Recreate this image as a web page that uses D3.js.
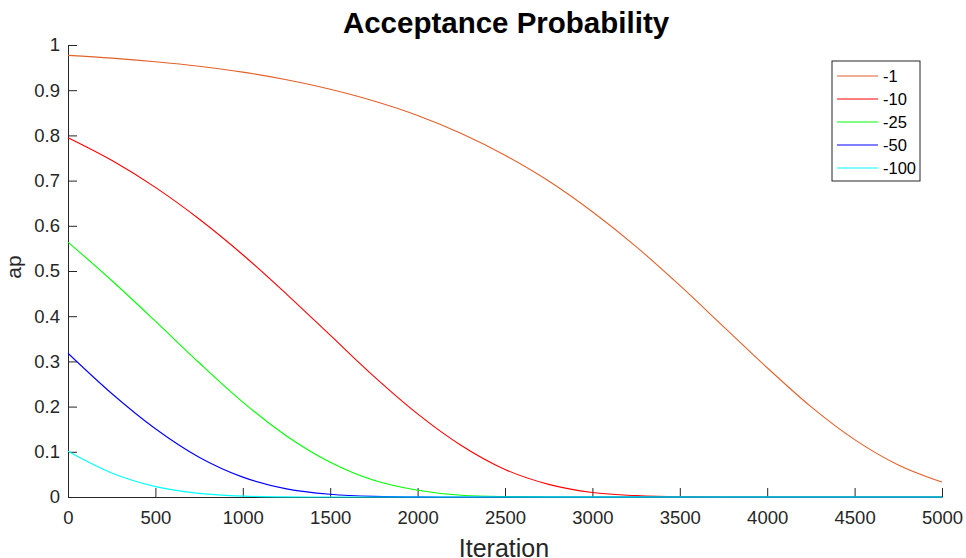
<!DOCTYPE html>
<html>
<head>
<meta charset="utf-8">
<script src="https://cdn.jsdelivr.net/npm/d3@7"></script>
<style>
  body { margin: 0; background: #fff; overflow: hidden; }
  text { font-family: "Liberation Sans", Arial, sans-serif; fill: #262626; }
</style>
</head>
<body>
<script>
// iteration samples (every 250)
var iterations = [0, 250, 500, 750, 1000, 1250, 1500, 1750, 2000, 2250, 2500,
                  2750, 3000, 3250, 3500, 3750, 4000, 4250, 4500, 4750, 5000];

var seriesNames = ["-1", "-10", "-25", "-50", "-100"];
var seriesColors = ["#e2612a", "#ff0000", "#00ff00", "#0000ff", "#00ffff"];

var ap1   = [0.977, 0.971, 0.963, 0.953, 0.940, 0.923, 0.902, 0.876, 0.844, 0.804, 0.756,
             0.699, 0.631, 0.554, 0.468, 0.377, 0.286, 0.200, 0.127, 0.071, 0.033];
var ap10  = [0.795, 0.745, 0.685, 0.615, 0.536, 0.449, 0.358, 0.267, 0.184, 0.114, 0.061,
             0.028, 0.010, 0.003, 0.0005, 0.0001, 0, 0, 0, 0, 0];
var ap25  = [0.564, 0.479, 0.389, 0.297, 0.210, 0.135, 0.077, 0.037, 0.015, 0.004, 0.001,
             0.0001, 0, 0, 0, 0, 0, 0, 0, 0, 0];
var ap50  = [0.318, 0.229, 0.151, 0.088, 0.044, 0.018, 0.006, 0.0014, 0.0002, 0, 0,
             0, 0, 0, 0, 0, 0, 0, 0, 0, 0];
var ap100 = [0.101, 0.053, 0.023, 0.008, 0.002, 0.0003, 0, 0, 0, 0, 0,
             0, 0, 0, 0, 0, 0, 0, 0, 0, 0];

var xTicks = [0, 500, 1000, 1500, 2000, 2500, 3000, 3500, 4000, 4500, 5000];
var yTicks = [0, 0.1, 0.2, 0.3, 0.4, 0.5, 0.6, 0.7, 0.8, 0.9, 1];
var yTickLabels = ["0", "0.1", "0.2", "0.3", "0.4", "0.5", "0.6", "0.7", "0.8", "0.9", "1"];

var allSeries = [ap1, ap10, ap25, ap50, ap100];

var margin = {top: 45, right: 24, bottom: 61, left: 68},
    width = 966 - margin.left - margin.right,
    height = 558 - margin.top - margin.bottom;

var x = d3.scaleLinear().domain([0, 5000]).range([0, width]);
var y = d3.scaleLinear().domain([0, 1]).range([height, 0]);

var svg = d3.select("body").append("svg")
    .attr("width", 966)
    .attr("height", 558);

var g = svg.append("g")
    .attr("transform", "translate(" + margin.left + "," + margin.top + ")");

// axes, ticks pointing inward like matlab
var xAxis = g.append("g")
    .attr("transform", "translate(0," + height + ")")
    .call(d3.axisBottom(x).tickValues(xTicks).tickSizeInner(-9).tickSizeOuter(0).tickPadding(14)
          .tickFormat(d3.format("d")));

var yAxis = g.append("g")
    .call(d3.axisLeft(y).tickValues(yTicks).tickSizeInner(-9).tickSizeOuter(0).tickPadding(8)
          .tickFormat(function(d, i) { return yTickLabels[i]; }));

[xAxis, yAxis].forEach(function(a) {
  a.select(".domain").attr("stroke", "#262626");
  a.selectAll(".tick line").attr("stroke", "#262626");
  a.selectAll("text").style("font-size", "18.5px").attr("fill", "#262626")
    .style("font-family", "'Liberation Sans', Arial, sans-serif");
});

// lines
var line = d3.line()
    .x(function(d, i) { return x(iterations[i]); })
    .y(function(d) { return y(d); })
    .curve(d3.curveMonotoneX);

g.selectAll(".series")
    .data(allSeries)
    .enter().append("path")
    .attr("class", "series")
    .attr("fill", "none")
    .attr("stroke", function(d, i) { return seriesColors[i]; })
    .attr("stroke-width", 1.1)
    .attr("d", line);

// title and labels
svg.append("text")
    .attr("x", 506)
    .attr("y", 33)
    .attr("text-anchor", "middle")
    .style("font-size", "29.5px")
    .style("font-weight", "bold")
    .style("fill", "#000")
    .text("Acceptance Probability");

svg.append("text")
    .attr("x", 504)
    .attr("y", 557)
    .attr("text-anchor", "middle")
    .style("font-size", "25px")
    .text("Iteration");

svg.append("text")
    .attr("transform", "translate(21,267) rotate(-90)")
    .attr("text-anchor", "middle")
    .style("font-size", "21px")
    .text("ap");

// legend
var legend = svg.append("g").attr("transform", "translate(832,61)");

legend.append("rect")
    .attr("width", 88)
    .attr("height", 120)
    .attr("fill", "#fff")
    .attr("stroke", "#262626")
    .attr("stroke-width", 1);

var rows = legend.selectAll(".row")
    .data(seriesNames)
    .enter().append("g")
    .attr("class", "row")
    .attr("transform", function(d, i) { return "translate(0," + (15 + i * 23) + ")"; });

rows.append("line")
    .attr("x1", 5).attr("x2", 46)
    .attr("stroke", function(d, i) { return seriesColors[i]; })
    .attr("stroke-width", 1.1);

rows.append("text")
    .attr("x", 51)
    .attr("dy", "0.36em")
    .style("font-size", "16.5px")
    .style("fill", "#000")
    .text(function(d) { return d; });
</script>
</body>
</html>
